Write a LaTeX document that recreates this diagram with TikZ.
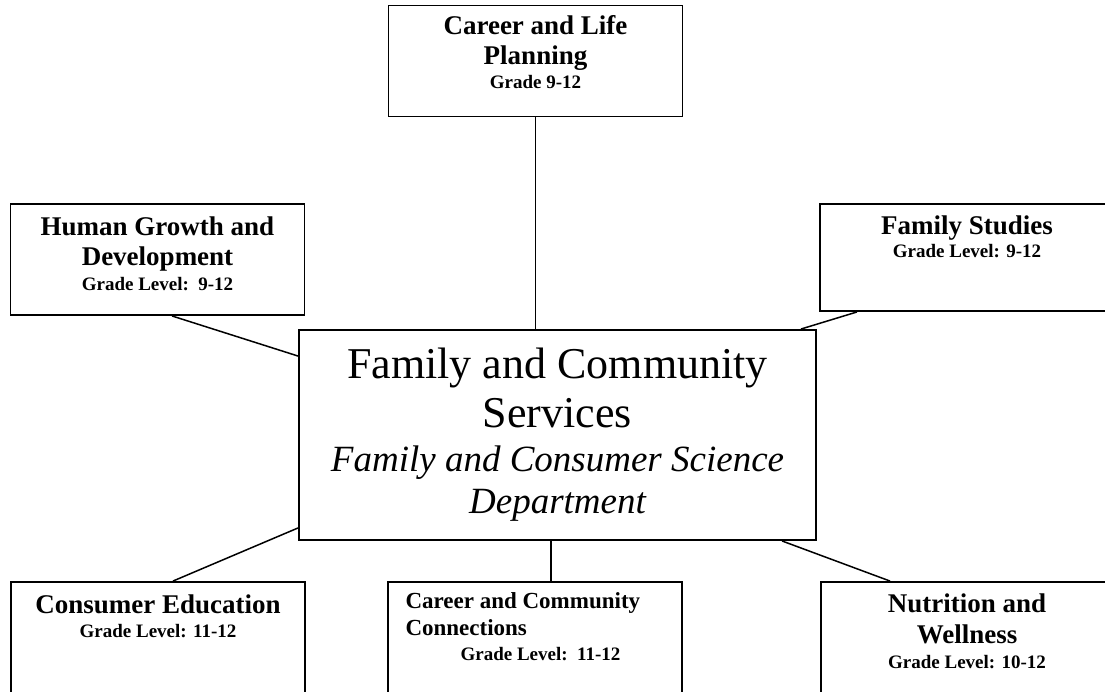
\documentclass[tikz,border=0pt]{standalone}
\usepackage{fontspec}
\setmainfont{Liberation Serif}
\usetikzlibrary{positioning}
\tikzset{box/.style={draw, line width=1.9pt, inner sep=0pt, minimum width=294pt, minimum height=111pt}}
\tikzset{link/.style={line width=1.5pt}}
\tikzset{boxtitle/.style={font=\bfseries\fontsize{27}{30.5}\selectfont, align=center, anchor=base}}
\tikzset{boxgrade/.style={font=\bfseries\fontsize{19}{23}\selectfont, anchor=base}}

\begin{document}
\begin{tikzpicture}[x=1pt, y=-1pt]
    \useasboundingbox (0,0) rectangle (1105,692);
    \node[box] (clp) at (535.5, 61) {};
    \node[boxtitle] (clpt) at (535.5, 65) {Career and Life\\Planning};
    \node[boxgrade] (clpg) at (535.5, 89) {Grade 9-12};
    \node[box] (hgd) at (157.5, 259.5) {};
    \node[boxtitle] (hgdt) at (157.5, 266) {Human Growth and\\Development};
    \node[boxgrade] (hgdg) at (157.5, 291) {Grade Level:\ \ 9-12};
    \node[box, minimum height=107pt] (fs) at (967, 257.5) {};
    \node[boxtitle] (fst) at (967, 235) {Family Studies};
    \node[boxgrade] (fsg) at (967, 258) {Grade Level: 9-12};
    \node[box, minimum width=517pt, minimum height=210pt] (fcs) at (557.5, 435) {};
    \node[font=\fontsize{44}{49}\selectfont, align=center, anchor=base] (fcst) at (557.5, 427) {Family and Community\\Services};
    \node[font=\itshape\fontsize{37}{42}\selectfont, align=center, anchor=base] (fcsd) at (557.5, 513) {Family and Consumer Science\\Department};
    \node[box, minimum height=118pt] (ce) at (158, 641) {};
    \node[boxtitle] (cet) at (158, 613) {Consumer Education};
    \node[boxgrade] (ceg) at (158, 637) {Grade Level: 11-12};
    \node[box, minimum height=118pt] (ccc) at (535, 641) {};
    \node[boxtitle, font=\bfseries\fontsize{23}{27}\selectfont, align=left, anchor=base west] (ccct) at (402, 635) {Career and Community\\Connections};
    \node[boxgrade, anchor=base west] (cccg) at (457, 660) {Grade Level:\ \ 11-12};
    \node[box, minimum height=118pt] (nw) at (968, 641) {};
    \node[boxtitle] (nwt) at (967, 643) {Nutrition and\\Wellness};
    \node[boxgrade] (nwg) at (967, 668) {Grade Level: 10-12};
    \draw[link] (clp.south) to (clp.south |- fcs.north);
    \draw[link] ([xshift=14.5pt]hgd.south) to ([yshift=-27pt]fcs.north west);
    \draw[link] ([xshift=-110pt]fs.south) to ([xshift=-16pt]fcs.north east);
    \draw[link] ([xshift=15pt]ce.north) to ([yshift=13pt]fcs.south west);
    \draw[link] ([xshift=-6.5pt]fcs.south) to ([xshift=16pt]ccc.north);
    \draw[link] ([xshift=224.5pt]fcs.south) to ([xshift=-78pt]nw.north);
  \end{tikzpicture}
\end{document}
